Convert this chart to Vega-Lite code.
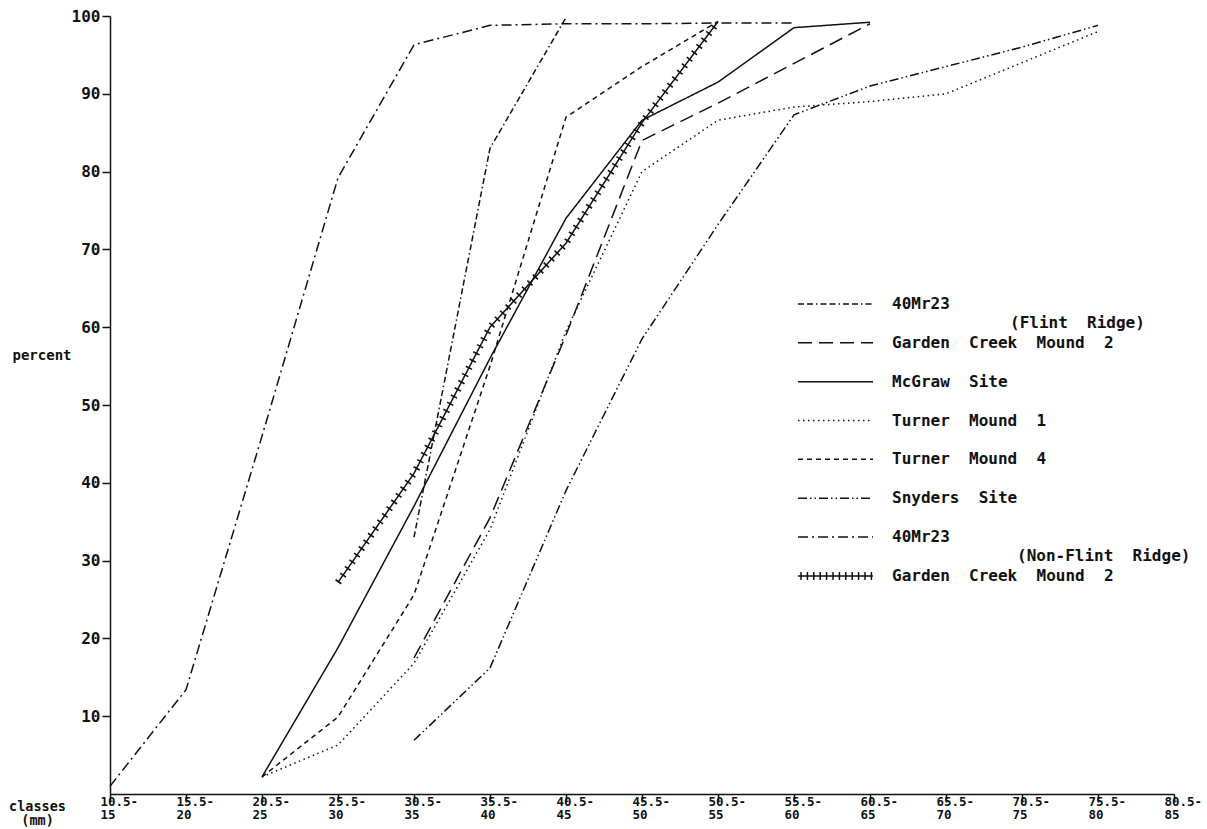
{
  "$schema": "https://vega.github.io/schema/vega-lite/v6.json",
  "width": 1064,
  "height": 778,
  "autosize": {"type": "none"},
  "padding": {"left": 110, "top": 16, "right": 33, "bottom": 35},
  "background": "white",
  "config": {
    "view": {"stroke": null},
    "axis": {
      "grid": false,
      "domainColor": "#111",
      "tickColor": "#111",
      "labelColor": "#111",
      "titleColor": "#111",
      "labelFont": "DejaVu Sans Mono",
      "titleFont": "DejaVu Sans Mono",
      "labelFontWeight": "bold",
      "titleFontWeight": "bold",
      "domainWidth": 1.5,
      "tickWidth": 1.5
    }
  },
  "data": {
    "values": [
      {"site": "40Mr23 (Flint Ridge)", "cls": 30.5, "pct": 33},
      {"site": "40Mr23 (Flint Ridge)", "cls": 35.5, "pct": 83},
      {"site": "40Mr23 (Flint Ridge)", "cls": 40.5, "pct": 99.8},

      {"site": "Garden Creek Mound 2 (Flint Ridge)", "cls": 30.5, "pct": 17.5},
      {"site": "Garden Creek Mound 2 (Flint Ridge)", "cls": 35.5, "pct": 35.5},
      {"site": "Garden Creek Mound 2 (Flint Ridge)", "cls": 40.5, "pct": 59},
      {"site": "Garden Creek Mound 2 (Flint Ridge)", "cls": 45.5, "pct": 84},
      {"site": "Garden Creek Mound 2 (Flint Ridge)", "cls": 50.5, "pct": 88.8},
      {"site": "Garden Creek Mound 2 (Flint Ridge)", "cls": 55.5, "pct": 93.9},
      {"site": "Garden Creek Mound 2 (Flint Ridge)", "cls": 60.5, "pct": 99},

      {"site": "McGraw Site", "cls": 20.5, "pct": 2.2},
      {"site": "McGraw Site", "cls": 25.5, "pct": 18.8},
      {"site": "McGraw Site", "cls": 30.5, "pct": 37},
      {"site": "McGraw Site", "cls": 35.5, "pct": 56},
      {"site": "McGraw Site", "cls": 40.5, "pct": 74},
      {"site": "McGraw Site", "cls": 45.5, "pct": 86.6},
      {"site": "McGraw Site", "cls": 50.5, "pct": 91.5},
      {"site": "McGraw Site", "cls": 55.5, "pct": 98.5},
      {"site": "McGraw Site", "cls": 60.5, "pct": 99.2},

      {"site": "Turner Mound 1", "cls": 20.5, "pct": 2.2},
      {"site": "Turner Mound 1", "cls": 25.5, "pct": 6.3},
      {"site": "Turner Mound 1", "cls": 30.5, "pct": 16.8},
      {"site": "Turner Mound 1", "cls": 35.5, "pct": 34},
      {"site": "Turner Mound 1", "cls": 40.5, "pct": 59.5},
      {"site": "Turner Mound 1", "cls": 45.5, "pct": 80},
      {"site": "Turner Mound 1", "cls": 50.5, "pct": 86.6},
      {"site": "Turner Mound 1", "cls": 55.5, "pct": 88.3},
      {"site": "Turner Mound 1", "cls": 60.5, "pct": 89},
      {"site": "Turner Mound 1", "cls": 65.5, "pct": 90},
      {"site": "Turner Mound 1", "cls": 70.5, "pct": 94},
      {"site": "Turner Mound 1", "cls": 75.5, "pct": 98},

      {"site": "Turner Mound 4", "cls": 20.5, "pct": 2.2},
      {"site": "Turner Mound 4", "cls": 25.5, "pct": 9.9},
      {"site": "Turner Mound 4", "cls": 30.5, "pct": 25.6},
      {"site": "Turner Mound 4", "cls": 35.5, "pct": 55},
      {"site": "Turner Mound 4", "cls": 40.5, "pct": 87},
      {"site": "Turner Mound 4", "cls": 45.5, "pct": 93.5},
      {"site": "Turner Mound 4", "cls": 50.5, "pct": 99.3},

      {"site": "Snyders Site", "cls": 30.5, "pct": 6.9},
      {"site": "Snyders Site", "cls": 35.5, "pct": 16.2},
      {"site": "Snyders Site", "cls": 40.5, "pct": 39},
      {"site": "Snyders Site", "cls": 45.5, "pct": 58.5},
      {"site": "Snyders Site", "cls": 50.5, "pct": 73.2},
      {"site": "Snyders Site", "cls": 55.5, "pct": 87.3},
      {"site": "Snyders Site", "cls": 60.5, "pct": 91},
      {"site": "Snyders Site", "cls": 65.5, "pct": 93.5},
      {"site": "Snyders Site", "cls": 70.5, "pct": 96},
      {"site": "Snyders Site", "cls": 75.5, "pct": 98.8},

      {"site": "40Mr23 (Non-Flint Ridge)", "cls": 10.5, "pct": 1},
      {"site": "40Mr23 (Non-Flint Ridge)", "cls": 15.5, "pct": 13.4},
      {"site": "40Mr23 (Non-Flint Ridge)", "cls": 20.5, "pct": 46},
      {"site": "40Mr23 (Non-Flint Ridge)", "cls": 25.5, "pct": 79.2},
      {"site": "40Mr23 (Non-Flint Ridge)", "cls": 30.5, "pct": 96.3},
      {"site": "40Mr23 (Non-Flint Ridge)", "cls": 35.5, "pct": 98.8},
      {"site": "40Mr23 (Non-Flint Ridge)", "cls": 40.5, "pct": 99},
      {"site": "40Mr23 (Non-Flint Ridge)", "cls": 45.5, "pct": 99},
      {"site": "40Mr23 (Non-Flint Ridge)", "cls": 50.5, "pct": 99.1},
      {"site": "40Mr23 (Non-Flint Ridge)", "cls": 55.5, "pct": 99.1},

      {"site": "Garden Creek Mound 2 (Non-Flint Ridge)", "cls": 25.5, "pct": 27.2},
      {"site": "Garden Creek Mound 2 (Non-Flint Ridge)", "cls": 30.5, "pct": 41.2},
      {"site": "Garden Creek Mound 2 (Non-Flint Ridge)", "cls": 35.5, "pct": 60},
      {"site": "Garden Creek Mound 2 (Non-Flint Ridge)", "cls": 40.5, "pct": 70.8},
      {"site": "Garden Creek Mound 2 (Non-Flint Ridge)", "cls": 45.5, "pct": 86.3},
      {"site": "Garden Creek Mound 2 (Non-Flint Ridge)", "cls": 50.5, "pct": 99.3}
    ]
  },
  "encoding": {
    "x": {
      "field": "cls",
      "type": "quantitative",
      "scale": {"domain": [10.5, 80.5], "nice": false, "zero": false},
      "axis": {
        "values": [10.5, 15.5, 20.5, 25.5, 30.5, 35.5, 40.5, 45.5, 50.5, 55.5, 60.5, 65.5, 70.5, 75.5, 80.5],
        "labelExpr": "[format(datum.value, '.1f') + '-', format(datum.value + 4.5, 'd')]",
        "labelAlign": "left",
        "labelOffset": -10,
        "labelBaseline": "top",
        "labelFontSize": 12.5,
        "labelLineHeight": 13,
        "labelPadding": -7,
        "labelFlush": false,
        "labelOverlap": false,
        "tickSize": 8,
        "title": ["classes", "(mm)"],
        "titleX": -73,
        "titleY": 5,
        "titleAlign": "center",
        "titleBaseline": "top",
        "titleFontSize": 13.5,
        "titleLineHeight": 14
      }
    },
    "y": {
      "field": "pct",
      "type": "quantitative",
      "scale": {"domain": [0, 100], "nice": false},
      "axis": {
        "values": [10, 20, 30, 40, 50, 60, 70, 80, 90, 100],
        "labelFontSize": 16,
        "tickSize": 8,
        "labelPadding": 2,
        "title": "percent",
        "titleAngle": 0,
        "titleX": -98,
        "titleY": 339,
        "titleAlign": "left",
        "titleBaseline": "middle",
        "titleFontSize": 14
      }
    }
  },
  "layer": [
    {
      "transform": [{"filter": "datum.site !== 'Garden Creek Mound 2 (Non-Flint Ridge)'"}],
      "mark": {"type": "line", "color": "#111", "strokeWidth": 1.5},
      "encoding": {
        "strokeDash": {
          "field": "site",
          "type": "nominal",
          "scale": {
            "domain": [
              "40Mr23 (Flint Ridge)", "~FR", "Garden Creek Mound 2 (Flint Ridge)", "~g1",
              "McGraw Site", "~g2", "Turner Mound 1", "~g3", "Turner Mound 4", "~g4",
              "Snyders Site", "~g5", "40Mr23 (Non-Flint Ridge)", "~NFR", "Garden Creek Mound 2 (Non-Flint Ridge)"
            ],
            "range": [
              [6, 3, 6, 3, 1.5, 3], [1, 0], [14, 7], [1, 0],
              [1, 0], [1, 0], [1.5, 3.5], [1, 0], [5, 4], [1, 0],
              [9, 3, 1.5, 3, 1.5, 3], [1, 0], [10, 4, 2, 4], [1, 0], [1, 0]
            ]
          },
          "legend": {
            "orient": "none",
            "legendX": 714.5,
            "legendY": 277,
            "title": null,
            "padding": 0,
            "rowPadding": 0.42,
            "direction": "vertical",
            "columns": 1,
            "symbolType": "stroke",
            "symbolSize": 400,
            "symbolStrokeWidth": 1.5,
            "symbolStrokeColor": "#111",
            "symbolFillColor": "transparent",
            "labelFont": "DejaVu Sans Mono",
            "labelFontWeight": "bold",
            "labelFontSize": 16,
            "labelColor": "#111",
            "labelOffset": 45.5,
            "labelLimit": 400,
            "labelExpr": "indexof(datum.value, '40Mr23') === 0 ? '40Mr23' : indexof(datum.value, 'Garden') === 0 ? 'Garden\u00a0 Creek\u00a0 Mound\u00a0 2' : datum.value === '~FR' ? '(Flint\u00a0 Ridge)' : datum.value === '~NFR' ? '(Non-Flint\u00a0 Ridge)' : indexof(datum.value, '~') === 0 ? '' : datum.value === 'McGraw Site' ? 'McGraw\u00a0 Site' : datum.value === 'Turner Mound 1' ? 'Turner\u00a0 Mound\u00a0 1' : datum.value === 'Turner Mound 4' ? 'Turner\u00a0 Mound\u00a0 4' : datum.value === 'Snyders Site' ? 'Snyders\u00a0 Site' : datum.label",
            "encoding": {
              "symbols": {
                "shape": {"value": {"expr": "datum.value === 'Garden Creek Mound 2 (Non-Flint Ridge)' ? 'M-3.75,0H3.75M-3.45,-0.4V0.4M-2.81,-0.4V0.4M-2.17,-0.4V0.4M-1.53,-0.4V0.4M-0.89,-0.4V0.4M-0.25,-0.4V0.4M0.39,-0.4V0.4M1.03,-0.4V0.4M1.67,-0.4V0.4M2.31,-0.4V0.4M2.95,-0.4V0.4M3.59,-0.4V0.4' : 'M-3.75,0H3.75'"}},
                "opacity": {"value": {"expr": "indexof(datum.value, '~') === 0 ? 0 : 1"}}
              },
              "labels": {
                "dx": {"value": {"expr": "datum.value === '~FR' ? 118 : datum.value === '~NFR' ? 125 : 0"}}
              }
            }
          }
        }
      }
    },
    {
      "transform": [{"filter": "datum.site === 'Garden Creek Mound 2 (Non-Flint Ridge)'"}],
      "mark": {"type": "line", "color": "#111", "strokeWidth": 1.5},
      "encoding": {}
    },
    {
      "transform": [{"filter": "datum.site === 'Garden Creek Mound 2 (Non-Flint Ridge)'"}],
      "mark": {"type": "line", "color": "#111", "strokeWidth": 7, "strokeDash": [1.6, 6.5]},
      "encoding": {}
    }
  ]
}
